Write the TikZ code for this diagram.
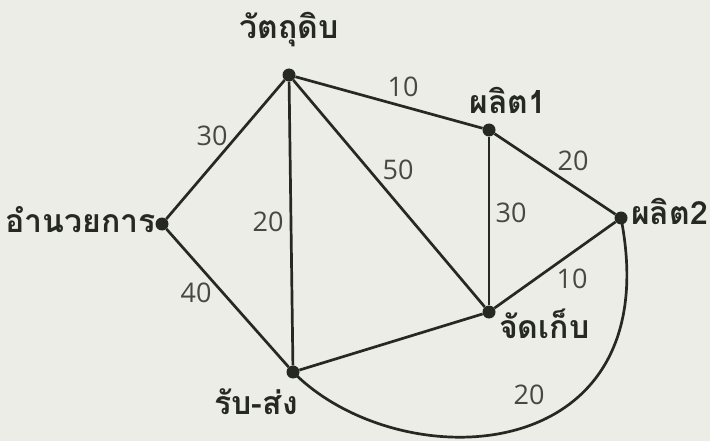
\documentclass[tikz,border=0pt]{standalone}
\usepackage{fontspec}
\newfontfamily\thaifont[Script=Thai]{Loma}
\newfontfamily\numfont{Open Sans}
\definecolor{bg}{RGB}{237,237,231}
\definecolor{ink}{RGB}{38,40,34}
\definecolor{numc}{RGB}{70,72,66}
\begin{document}
\begin{tikzpicture}[x=1pt,y=-1pt,
  dot/.style={circle,fill=ink,inner sep=0pt,minimum size=13pt},
  edge/.style={draw=ink,line width=2.7pt},
  lab/.style={font=\thaifont\bfseries\fontsize{32}{35}\selectfont,text=ink,inner sep=0pt},
  num/.style={font=\numfont\fontsize{27}{30}\selectfont,text=numc,inner sep=0pt}]
\fill[bg] (0,0) rectangle (710,441);
\useasboundingbox (0,0) rectangle (710,441);
% vertices
\node[dot] (raw) at (289,75) {};
\node[dot] (pa) at (489,130) {};
\node[dot] (adm) at (162,224) {};
\node[dot] (pb) at (621,218) {};
\node[dot] (sto) at (489,312) {};
\node[dot] (shp) at (293,372) {};
% edges
\draw[edge] (adm) -- (raw);
\draw[edge] (adm) -- (shp);
\draw[edge] (raw) -- (pa);
\draw[edge] (raw) -- (shp);
\draw[edge] (raw) -- (sto);
\draw[edge] (pa) -- (sto);
\draw[edge] (pa) -- (pb);
\draw[edge] (sto) -- (pb);
\draw[edge] (shp) -- (sto);
\coordinate (c1) at (400,480);
\coordinate (c2) at (670,470);
\draw[edge] (shp.center) .. controls (c1) and (c2) .. (pb.center);
% vertex labels
\node[lab,anchor=base] (lraw) at (289,39) {วัตถุดิบ};
\node[lab,anchor=base] (lpa) at (508,114) {ผลิต1};
\node[lab,anchor=base east] (ladm) at (156,233) {อำนวยการ};
\node[lab,anchor=base west] (lpb) at (631,224) {ผลิต2};
\node[lab,anchor=base west] (lsto) at (499,338) {จัดเก็บ};
\node[lab,anchor=base] (lshp) at (256,414) {รับ-ส่ง};
% weights
\node[num] (w1) at (212,136) {30};
\node[num] (w2) at (196,293) {40};
\node[num] (w3) at (403,87) {10};
\node[num] (w4) at (398,170) {50};
\node[num] (w5) at (268,222) {20};
\node[num] (w6) at (511,213) {30};
\node[num] (w7) at (573,161) {20};
\node[num] (w8) at (572,279) {10};
\node[num] (w9) at (529,395) {20};
\end{tikzpicture}
\end{document}
